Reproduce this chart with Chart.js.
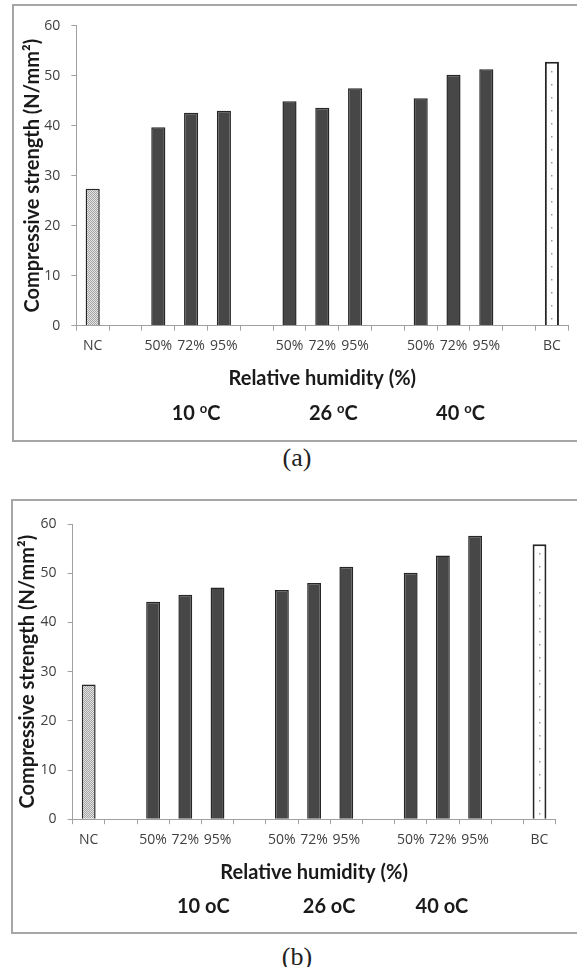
<!DOCTYPE html>
<html>
<head>
<meta charset="utf-8">
<script src="https://cdn.jsdelivr.net/npm/chart.js@4.4.0/dist/chart.umd.min.js"></script>
<style>
    html, body { margin: 0; padding: 0; background: #fff; overflow: hidden; }
    body { width: 577px; height: 967px; position: relative; }
    .box { position: absolute; border: 2px solid #a6a6a6; box-sizing: border-box; }
    canvas { position: absolute; left: 0; }
    .cap { position: absolute; left: 0; width: 594px; text-align: center; line-height: 30px;
           font-family: "Liberation Serif", serif; font-size: 26px; color: #222; }
</style>
</head>
<body>
<div class="box" style="left:12px;top:4px;width:600px;height:438px"></div>
<div class="box" style="left:11px;top:499px;width:600px;height:435px"></div>
<canvas id="chartA" width="577" height="440" style="top:0"></canvas>
<canvas id="chartB" width="577" height="440" style="top:495px"></canvas>
<div class="cap" style="top:443px">(a)</div>
<div class="cap" style="top:942px">(b)</div>
<script>
"use strict";
// categories along the x axis (blank ones separate the temperature groups)
var categories = ["NC", "", "50%", "72%", "95%", "", "50%", "72%", "95%", "", "50%", "72%", "95%", "", "BC"];
// compressive strength, N/mm2
var strengthA = [27.4, null, 39.7, 42.6, 43.0, null, 44.9, 43.6, 47.5, null, 45.5, 50.2, 51.3, null, 52.8];
var strengthB = [27.4, null, 44.2, 45.6, 47.1, null, 46.6, 48.0, 51.3, null, 50.1, 53.6, 57.6, null, 55.9];
var yTicks = [0, 10, 20, 30, 40, 50, 60];
// curing temperatures, shown under their groups
var temps = ["10", "26", "40"];
var tempCategory = [3, 7, 11];

Chart.defaults.font.family = "Lato";

var darkBar = "#474747";
var axisGrey = "#a0a0a0";
var tickFont = { family: "Open Sans", size: 14 };

function stipple() {
    var c = document.createElement("canvas");
    c.width = 2; c.height = 2;
    var x = c.getContext("2d");
    x.fillStyle = "#e4e4e4"; x.fillRect(0, 0, 2, 2);
    x.fillStyle = "#a4a4a4"; x.fillRect(0, 0, 1, 1); x.fillRect(1, 1, 1, 1);
    return x.createPattern(c, "repeat");
}

// dotted centre line of the BC bar + temperature labels
var extras = {
    id: "extras",
    afterDatasetsDraw: function (chart) {
        var ctx = chart.ctx;
        var bc = chart.getDatasetMeta(0).data[categories.indexOf("BC")];
        ctx.save();
        ctx.fillStyle = "#9a9a9a";
        for (var y = bc.y + 9; y < bc.base - 3; y += 13) {
            ctx.fillRect(Math.round(bc.x) - 1, Math.round(y), 1.5, 1.5);
        }
        ctx.restore();
    },
    afterDraw: function (chart, args, o) {
        var ctx = chart.ctx, xs = chart.scales.x;
        var y = chart.chartArea.bottom + o.dy;
        var big = "bold 20px Lato", small = "bold 13px Lato";
        ctx.save();
        ctx.fillStyle = "#1a1a1a";
        ctx.textBaseline = "middle";
        ctx.textAlign = "left";
        temps.forEach(function (t, i) {
            var cx = xs.getPixelForValue(tempCategory[i]) + o.dx[i];
            if (o.superscript) {
                ctx.font = big;
                var w1 = ctx.measureText(t + " ").width, w3 = ctx.measureText("C").width;
                ctx.font = small;
                var w2 = ctx.measureText("o").width;
                var x0 = cx - (w1 + w2 + w3) / 2;
                ctx.font = big; ctx.fillText(t + " ", x0, y);
                ctx.font = small; ctx.fillText("o", x0 + w1, y - 5);
                ctx.font = big; ctx.fillText("C", x0 + w1 + w2, y);
            } else {
                ctx.font = big;
                ctx.textAlign = "center";
                ctx.fillText(t + " oC", cx, y);
            }
        });
        ctx.restore();
    }
};

function makeChart(id, values, g) {
    var colours = categories.map(function (c) {
        return c === "NC" ? stipple() : (c === "BC" ? "#ffffff" : darkBar);
    });
    var widths = categories.map(function (c) { return c === "BC" ? 2 : 1.5; });
    return new Chart(document.getElementById(id), {
        type: "bar",
        plugins: [extras],
        data: {
            labels: categories,
            datasets: [{
                data: values,
                backgroundColor: colours,
                borderColor: "#262626",
                borderWidth: widths,
                barPercentage: 0.43,
                categoryPercentage: 1
            }]
        },
        options: {
            responsive: false,
            animation: false,
            devicePixelRatio: 1,
            layout: { padding: { left: 0, right: g.right, top: g.top, bottom: 0 } },
            plugins: {
                legend: { display: false },
                tooltip: { enabled: false },
                extras: { dy: g.tempDy, dx: g.tempDx, superscript: g.superscript }
            },
            scales: {
                x: {
                    afterFit: function (s) { s.height = g.xHeight; },
                    grid: { drawOnChartArea: false, tickLength: 5, color: axisGrey },
                    border: { color: axisGrey, width: 1 },
                    ticks: { autoSkip: false, maxRotation: 0, padding: 7, color: "#404040", font: tickFont },
                    title: {
                        display: true, text: "Relative humidity (%)", color: "#1a1a1a",
                        font: { size: 20, weight: "bold" }, padding: { top: 0, bottom: g.xTitlePad }
                    }
                },
                y: {
                    min: yTicks[0],
                    max: yTicks[yTicks.length - 1],
                    afterFit: function (s) { s.width = g.yWidth; },
                    grid: { drawOnChartArea: false, tickLength: 5, color: axisGrey },
                    border: { color: axisGrey, width: 1 },
                    ticks: { stepSize: yTicks[1] - yTicks[0], padding: 11, color: "#404040", font: tickFont },
                    title: {
                        display: true, text: "Compressive strength (N/mm²)", color: "#1a1a1a",
                        font: { size: 20, weight: "bold" }, padding: { top: g.yTitlePad, bottom: 0 }
                    }
                }
            }
        }
    });
}

document.addEventListener("DOMContentLoaded", function () {
    makeChart("chartA", strengthA, {
        yWidth: 76.3, right: 8.7, top: 25.7, xHeight: 114.3, xTitlePad: 49, yTitlePad: 21,
        tempDy: 88.3, tempDx: [5, 11, 7], superscript: true
    });
    makeChart("chartB", strengthB, {
        yWidth: 72.6, right: 21.4, top: 29, xHeight: 115.8, xTitlePad: 50.3, yTitlePad: 16,
        tempDy: 87.5, tempDx: [18, 15, -1], superscript: false
    });
});
</script>
</body>
</html>
